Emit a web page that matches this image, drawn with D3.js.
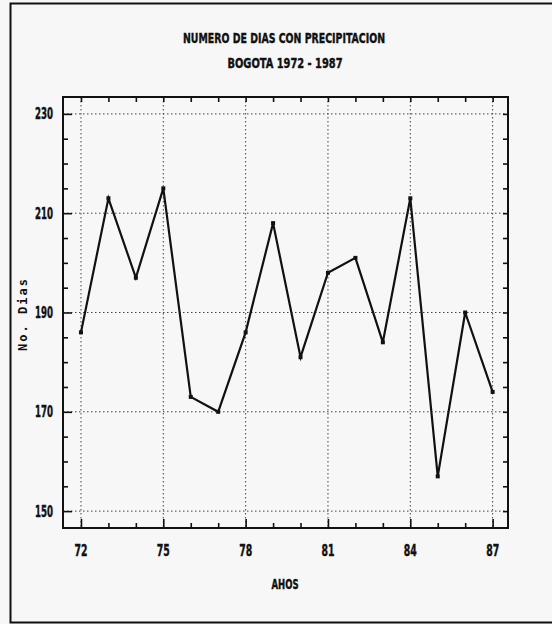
<!DOCTYPE html>
<html>
<head>
<meta charset="utf-8">
<script src="https://cdn.jsdelivr.net/npm/d3@7"></script>
<style>
  html, body { margin: 0; padding: 0; background: #f7f7f7; }
  svg { display: block; }
  .lbl { font-family: "DejaVu Sans Condensed", "Liberation Sans Narrow", "Liberation Sans", sans-serif; font-weight: bold; fill: #111; stroke: #111; stroke-width: 0.4; }
  .grid line { stroke: #444; stroke-width: 1; stroke-dasharray: 1.5,2.5; }
</style>
</head>
<body>
<svg id="chart" width="552" height="624"></svg>
<script>
// data
var years = [72, 73, 74, 75, 76, 77, 78, 79, 80, 81, 82, 83, 84, 85, 86, 87];
var dias  = [186, 213, 197, 215, 173, 170, 186, 208, 181, 198, 201, 184, 213, 157, 190, 174];
var xTicks = [72, 75, 78, 81, 84, 87];
var yTicks = [150, 170, 190, 210, 230];

var svg = d3.select('#chart');

// plot frame
var frame = {l: 63, r: 508, t: 97, b: 528};

var x = d3.scaleLinear().domain([71.345, 87.56]).range([frame.l, frame.r]);
var y = d3.scaleLinear().domain([146.6, 233.4]).range([frame.b, frame.t]);

// outer border (left, top, bottom only)
svg.append('path')
    .attr('d', 'M552,3.5H10.5V622.5H552')
    .attr('fill', 'none').attr('stroke', '#111').attr('stroke-width', 2);

// titles
svg.append('text').attr('class', 'lbl')
    .attr('x', 284).attr('y', 43).attr('text-anchor', 'middle')
    .attr('font-size', 14).attr('textLength', 202).attr('lengthAdjust', 'spacingAndGlyphs')
    .text('NUMERO DE DIAS CON PRECIPITACION');
svg.append('text').attr('class', 'lbl')
    .attr('x', 285).attr('y', 68).attr('text-anchor', 'middle')
    .attr('font-size', 14).attr('textLength', 115).attr('lengthAdjust', 'spacingAndGlyphs')
    .text('BOGOTA 1972 - 1987');

// dotted grid
var grid = svg.append('g').attr('class', 'grid');
grid.selectAll('.gx').data(xTicks).enter().append('line')
    .attr('x1', d => x(d)).attr('x2', d => x(d))
    .attr('y1', frame.t).attr('y2', frame.b);
grid.selectAll('.gy').data(yTicks).enter().append('line')
    .attr('y1', d => y(d)).attr('y2', d => y(d))
    .attr('x1', frame.l).attr('x2', frame.r);

// axes with inward ticks
var minorX = d3.range(72, 88);
var minorY = d3.range(150, 231, 5);

function isMajorX(d) { return xTicks.indexOf(d) >= 0; }
function isMajorY(d) { return yTicks.indexOf(d) >= 0; }

var axBottom = svg.append('g').attr('transform', 'translate(0,' + frame.b + ')')
    .call(d3.axisBottom(x).tickValues(minorX).tickSize(-5).tickFormat(''));
axBottom.selectAll('.tick line').attr('y2', d => isMajorX(d) ? -9 : -5);
var axTop = svg.append('g').attr('transform', 'translate(0,' + frame.t + ')')
    .call(d3.axisTop(x).tickValues(minorX).tickSize(-5).tickFormat(''));
var axLeft = svg.append('g').attr('transform', 'translate(' + frame.l + ',0)')
    .call(d3.axisLeft(y).tickValues(minorY).tickSize(-5).tickFormat(''));
axLeft.selectAll('.tick line').attr('x2', d => isMajorY(d) ? 9 : 5);
var axRight = svg.append('g').attr('transform', 'translate(' + frame.r + ',0)')
    .call(d3.axisRight(y).tickValues(minorY).tickSize(-5).tickFormat(''));

[axBottom, axTop, axLeft, axRight].forEach(function(g) {
    g.select('.domain').remove();
    g.selectAll('.tick line').attr('stroke', '#111').attr('stroke-width', 1.6);
});

svg.append('rect')
    .attr('x', frame.l).attr('y', frame.t)
    .attr('width', frame.r - frame.l).attr('height', frame.b - frame.t)
    .attr('fill', 'none').attr('stroke', '#111').attr('stroke-width', 2);

// tick labels
svg.selectAll('.xl').data(xTicks).enter().append('text').attr('class', 'lbl')
    .attr('x', d => x(d)).attr('y', 556).attr('text-anchor', 'middle')
    .attr('font-size', 15).attr('textLength', 13).attr('lengthAdjust', 'spacingAndGlyphs')
    .text(d => d);
svg.selectAll('.yl').data(yTicks).enter().append('text').attr('class', 'lbl')
    .attr('x', 53).attr('y', d => y(d) + 5.5).attr('text-anchor', 'end')
    .attr('font-size', 15).attr('textLength', 18).attr('lengthAdjust', 'spacingAndGlyphs')
    .text(d => d);

// axis titles
svg.append('text').attr('class', 'lbl')
    .attr('x', 285).attr('y', 589).attr('text-anchor', 'middle')
    .attr('font-size', 14).attr('textLength', 27).attr('lengthAdjust', 'spacingAndGlyphs')
    .text('AHOS');
svg.append('text')
    .attr('transform', 'translate(' + 27 + ',' + 314 + ')rotate(-90)')
    .attr('text-anchor', 'middle')
    .style('font-family', '"DejaVu Sans Mono", monospace')
    .style('font-weight', 'bold').style('font-size', '12px')
    .style('letter-spacing', '2px').style('fill', '#111')
    .text('No. Dias');

// data line
var line = d3.line().x((d, i) => x(years[i])).y(d => y(d));
svg.append('path').datum(dias)
    .attr('d', line)
    .attr('fill', 'none').attr('stroke', '#111').attr('stroke-width', 2.2)
    .attr('stroke-linejoin', 'miter');
svg.selectAll('.pt').data(dias).enter().append('rect')
    .attr('x', (d, i) => x(years[i]) - 2).attr('y', d => y(d) - 2)
    .attr('width', 4).attr('height', 4).attr('fill', '#111');
</script>
</body>
</html>
